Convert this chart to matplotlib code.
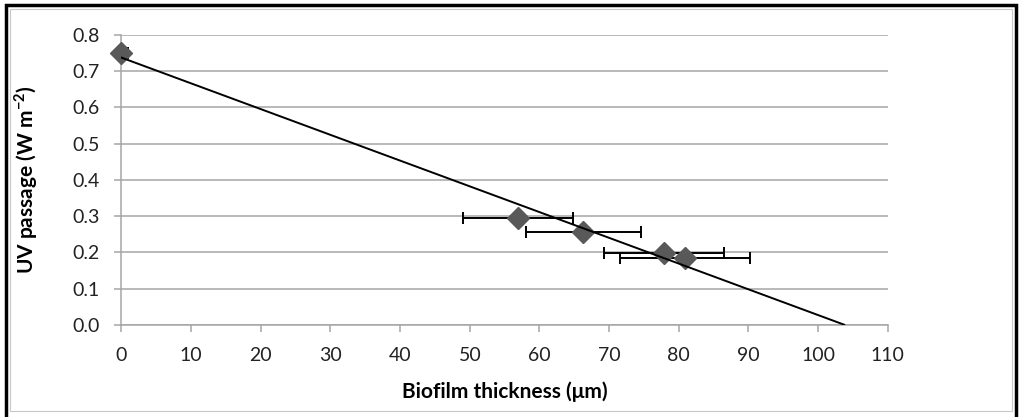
import numpy as np
import matplotlib
matplotlib.use("Agg")
import matplotlib.pyplot as plt
from matplotlib.patches import Rectangle

plt.rcParams["font.family"] = ["Lato", "DejaVu Sans"]

# biofilm thickness (um), horizontal error (um), UV passage (W m-2)
thickness = [0.0, 56.9, 66.3, 77.9, 80.9]
thickness_err = [1.0, 7.9, 8.3, 8.6, 9.3]
uv_passage = [0.75, 0.296, 0.255, 0.199, 0.183]

x_ticks = list(range(0, 111, 10))
y_ticks = [0.0, 0.1, 0.2, 0.3, 0.4, 0.5, 0.6, 0.7, 0.8]

grid_col = "#a6a6a6"
marker_col = "#595959"

fig = plt.figure(figsize=(10.21, 4.17), dpi=100)
ax = fig.add_axes([0.119, 0.2213, 0.7505, 0.6947])

# linear trendline, extended forward to where it hits zero
slope, intercept = np.polyfit(thickness, uv_passage, 1)
x_end = -intercept / slope
ax.plot([0, x_end], [intercept, 0], color="black", lw=1.4, zorder=4)

ax.errorbar(thickness, uv_passage, xerr=thickness_err, fmt="none",
            ecolor="black", elinewidth=1.4, capsize=4.5, capthick=1.4, zorder=2)
ax.plot(thickness, uv_passage, ls="none", marker="D", ms=11,
        color=marker_col, mec=marker_col, zorder=3, clip_on=False)

ax.set_xlim(0, 110)
ax.set_ylim(0, 0.8)
ax.set_xticks(x_ticks)
ax.set_yticks(y_ticks)
ax.set_yticklabels([f"{v:.1f}" for v in y_ticks])
ax.yaxis.grid(True, color=grid_col, lw=1.1)
ax.set_axisbelow(True)

for side in ["top", "right"]:
    ax.spines[side].set_visible(False)
for side in ["left", "bottom"]:
    ax.spines[side].set_color(grid_col)
    ax.spines[side].set_linewidth(1.1)
ax.tick_params(axis="both", direction="out", length=5, width=1.1,
               color=grid_col, labelsize=14, labelcolor="#222222", pad=11)

ax.set_xlabel("Biofilm thickness (\u03bcm)", fontsize=15, fontweight="bold")
ax.set_ylabel("UV passage (W m$^{\\mathregular{-2}}$)", fontsize=15,
              fontweight="bold")
ax.xaxis.set_label_coords(0.5, -0.195)
ax.yaxis.set_label_coords(-0.107, 0.5)

# frame around the whole chart
fig.patches.append(Rectangle((6 / 1021, -0.05), (1015.5 - 6) / 1021,
                             1.05 - 5.5 / 417, transform=fig.transFigure,
                             fill=False, ec="black", lw=2.5))
fig.patches.append(Rectangle((9.5 / 1021, 1 - 411 / 417), (1012 - 9.5) / 1021,
                             (411 - 8.5) / 417, transform=fig.transFigure,
                             fill=False, ec="#c8c8c8", lw=0.8))

fig.savefig("out.png", dpi=100)
